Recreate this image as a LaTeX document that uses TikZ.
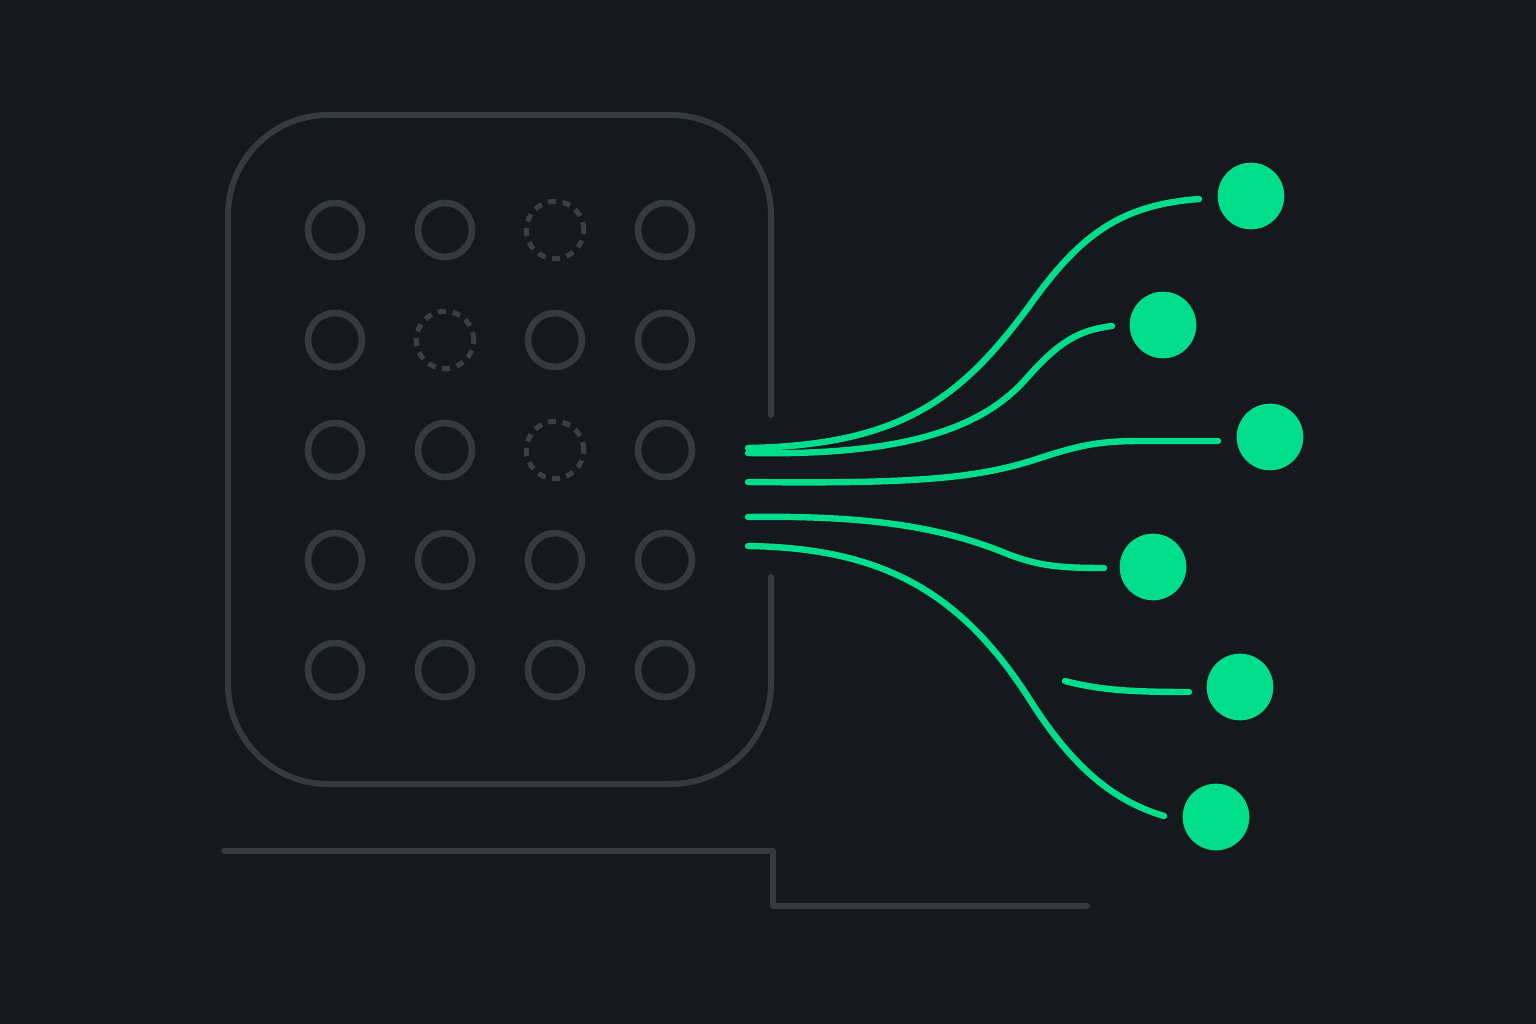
\documentclass[tikz,border=0pt]{standalone}
\usepackage{tikz}

\definecolor{bgdark}{RGB}{21,25,29}
\definecolor{rimgray}{RGB}{52,58,62}
\definecolor{ghostgray}{RGB}{58,63,66}
\definecolor{signalgreen}{RGB}{0,222,140}

\tikzset{
  rim/.style={draw=rimgray,line width=4.5pt,line cap=round,line join=round},
  gridring/.style={circle,draw=rimgray,line width=5pt,minimum size=40.5pt,inner sep=0pt},
  ghostring/.style={circle,draw=ghostgray,line width=3.8pt,minimum size=43pt,inner sep=0pt,dash pattern={on 6pt off 5pt}},
  wire/.style={draw=signalgreen,line width=4.8pt,line cap=round},
  pin/.style={circle,fill=signalgreen,minimum size=50pt,inner sep=0pt}
}

\begin{document}
\begin{tikzpicture}[x=0.75pt,y=0.75pt,yscale=-1,xscale=1]
%Shape: Background
\fill [bgdark] (0,0) rectangle (1536,1024);
\useasboundingbox (0,0) rectangle (1536,1024);

%Shape: Rounded frame with opening
\draw [rim,rounded corners=75pt] (771,415) -- (771,115) -- (228,115) -- (228,784) -- (771,784) -- (771,577);
%Shape: Base step line
\draw [rim] (224,851) -- (773,851) -- (773,906) -- (1087,906);

%Shape: Grid of rings
\foreach \c [count=\i] in {335,445,555,665}
  \foreach \r [count=\j] in {230,340,450,560,670}
    \node [gridring] (r\i\j) at (\c,\r) {};
%Shape: Empty slots (drawn over the rings)
\fill [bgdark] (555,230) circle (34);
\fill [bgdark] (445,340) circle (34);
\fill [bgdark] (555,450) circle (34);
\node [ghostring] (g31) at (555,230) {};
\node [ghostring] (g22) at (445,340) {};
\node [ghostring] (g33) at (555,450) {};

%Shape: Output pins
\node [pin] (p1) at (1251,196) {};
\node [pin] (p2) at (1163,325) {};
\node [pin] (p3) at (1270,437) {};
\node [pin] (p4) at (1153,567) {};
\node [pin] (p5) at (1240,687) {};
\node [pin] (p6) at (1216,817) {};

%Wire ends
\coordinate (w1) at (748,448);
\coordinate (w2) at (748,453);
\coordinate (w3) at (748,482);
\coordinate (w4) at (748,517);
\coordinate (w5) at (748,546);
\coordinate (w6) at (1065,681);
\coordinate (e1) at (1199,199);
\coordinate (e2) at (1112,326);
\coordinate (e3) at (1218,441);
\coordinate (e4) at (1104,568);
\coordinate (e5) at (1164,816);
\coordinate (e6) at (1189,692);

%Curves
\draw [wire] (w1) .. controls (900,445) and (960,400) .. (1030,305) .. controls (1080,235) and (1120,205) .. (e1);
\draw [wire] (w2) .. controls (900,456) and (980,430) .. (1025,380) .. controls (1060,340) and (1080,330) .. (e2);
\draw [wire] (w3) .. controls (920,484) and (980,478) .. (1040,458) .. controls (1080,445) and (1100,441) .. (1140,441) -- (e3);
\draw [wire] (w4) .. controls (880,515) and (950,530) .. (1010,555) .. controls (1040,566) and (1060,568) .. (e4);
\draw [wire] (w5) .. controls (880,548) and (960,590) .. (1030,700) .. controls (1070,763) and (1110,800) .. (e5);
\draw [wire] (w6) .. controls (1100,690) and (1130,692) .. (e6);

\end{tikzpicture}
\end{document}
